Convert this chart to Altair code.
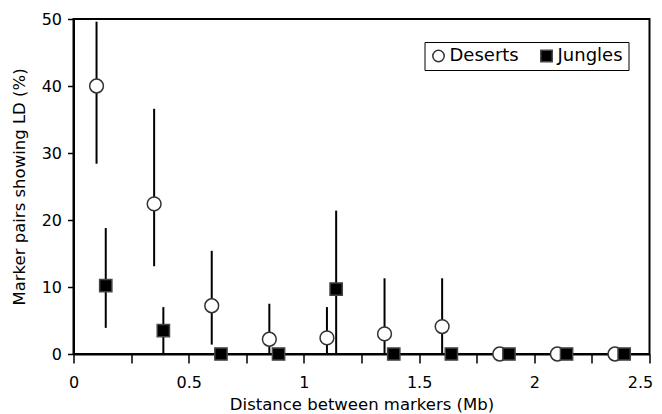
import altair as alt
import pandas as pd

# Distances (Mb)
x_deserts = [0.10, 0.35, 0.60, 0.85, 1.10, 1.35, 1.60, 1.85, 2.10, 2.35]
x_jungles = [0.14, 0.39, 0.64, 0.89, 1.14, 1.39, 1.64, 1.89, 2.14, 2.39]

# Marker pairs showing LD (%) with error bar limits
y_deserts = [40.0, 22.4, 7.2, 2.2, 2.4, 3.0, 4.1, 0.0, 0.0, 0.0]
lo_deserts = [28.4, 13.1, 1.4, 0.0, 0.0, 0.0, 0.0, 0.0, 0.0, 0.0]
hi_deserts = [49.6, 36.6, 15.4, 7.5, 7.0, 11.3, 11.3, 0.0, 0.0, 0.0]

y_jungles = [10.2, 3.5, 0.0, 0.0, 9.7, 0.0, 0.0, 0.0, 0.0, 0.0]
lo_jungles = [3.9, 0.0, 0.0, 0.0, 0.0, 0.0, 0.0, 0.0, 0.0, 0.0]
hi_jungles = [18.8, 7.0, 0.0, 0.0, 21.4, 0.0, 0.0, 0.0, 0.0, 0.0]

series_names = ["Deserts", "Jungles"]
x_ticks = [0, 0.25, 0.5, 0.75, 1.0, 1.25, 1.5, 1.75, 2.0, 2.25, 2.5]
y_ticks = [0, 10, 20, 30, 40, 50]

rows = []
for name, xs, ys, los, his in [
    ("Deserts", x_deserts, y_deserts, lo_deserts, hi_deserts),
    ("Jungles", x_jungles, y_jungles, lo_jungles, hi_jungles),
]:
    for x, y, lo, hi in zip(xs, ys, los, his):
        rows.append({"series": name, "x": x, "y": y, "lo": lo, "hi": hi})
df = pd.DataFrame(rows)

FONT = "DejaVu Sans"

x_enc = alt.X(
    "x:Q",
    scale=alt.Scale(domain=[0, 2.5], nice=False),
    axis=alt.Axis(
        values=x_ticks,
        format="~g",
        labelExpr="datum.value % 0.5 == 0 ? datum.label : ''",
        labelFlush=False,
        labelOffset=alt.condition("datum.value == 2.5", alt.value(-9.5), alt.value(0)),
        title="Distance between markers (Mb)",
        grid=False,
        tickSize=9,
        labelPadding=11,
        titlePadding=6,
    ),
)
y_scale = alt.Scale(domain=[0, 50], nice=False)
y_axis = alt.Axis(
    values=y_ticks,
    labelFlush=False,
    title="Marker pairs showing LD (%)",
    grid=False,
    tickSize=6,
    labelPadding=6,
    titlePadding=14,
)

bars = alt.Chart(df).mark_rule(color="black", strokeWidth=2).encode(
    x=x_enc,
    y=alt.Y("lo:Q", scale=y_scale, axis=y_axis),
    y2="hi:Q",
)

legend = alt.Legend(title=None)
shape_enc = alt.Shape(
    "series:N",
    scale=alt.Scale(domain=series_names, range=["circle", "square"]),
    legend=legend,
)
fill_enc = alt.Fill(
    "series:N",
    scale=alt.Scale(domain=series_names, range=["white", "black"]),
    legend=legend,
)
stroke_enc = alt.Stroke(
    "series:N",
    scale=alt.Scale(domain=series_names, range=["#333333", "#444444"]),
    legend=legend,
)


def point_layer(name, size):
    return (
        alt.Chart(df)
        .transform_filter(alt.datum.series == name)
        .mark_point(filled=True, strokeWidth=1.5, opacity=1, size=size)
        .encode(
            x=x_enc,
            y=alt.Y("y:Q", scale=y_scale, axis=y_axis),
            shape=shape_enc,
            fill=fill_enc,
            stroke=stroke_enc,
        )
    )


chart = (
    alt.layer(bars, point_layer("Deserts", 190), point_layer("Jungles", 150))
    .properties(
        width=576,
        height=335,
        autosize=alt.AutoSizeParams(type="none"),
        padding={"left": 65.5, "top": 11, "right": 4.5, "bottom": 60},
    )
    .configure(font=FONT)
    .configure_view(stroke="black", strokeWidth=2)
    .configure_axis(
        domainColor="black",
        domainWidth=2,
        tickColor="black",
        tickWidth=1.5,
        labelColor="black",
        titleColor="black",
        labelFont=FONT,
        titleFont=FONT,
        labelFontSize=16,
        titleFontSize=16.5,
        titleFontWeight="normal",
    )
    .configure_legend(
        orient="none",
        legendX=351,
        legendY=23,
        direction="horizontal",
        strokeColor="black",
        strokeWidth=1,
        padding=5,
        labelFont=FONT,
        labelFontSize=18,
        labelColor="black",
        symbolSize=130,
        symbolStrokeWidth=1.5,
        columnPadding=18,
        labelOffset=2,
    )
)

chart.save("out.html", embed_options={"renderer": "svg", "actions": False})
